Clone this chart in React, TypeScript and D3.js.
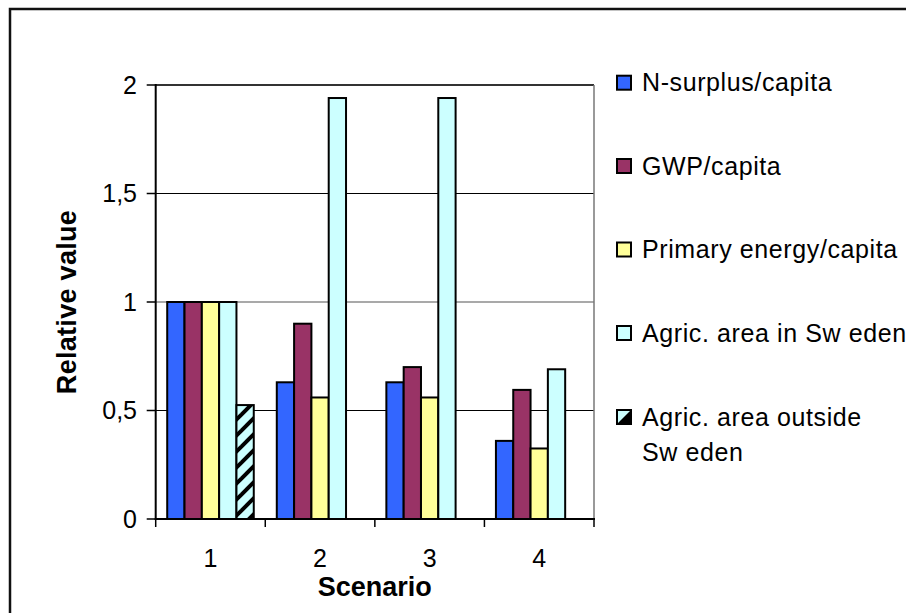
import React from "react";
import * as d3 from "d3";

const categories = ["1", "2", "3", "4"];
const seriesNames = [
  "N-surplus/capita",
  "GWP/capita",
  "Primary energy/capita",
  "Agric. area in Sw eden",
  "Agric. area outside Sw eden",
];
const legendLines = [
  ["N-surplus/capita"],
  ["GWP/capita"],
  ["Primary energy/capita"],
  ["Agric. area in Sw eden"],
  ["Agric. area outside", "Sw eden"],
];
const nSurplus = [1.0, 0.63, 0.63, 0.36];
const gwp = [1.0, 0.9, 0.7, 0.595];
const primaryEnergy = [1.0, 0.56, 0.56, 0.325];
const areaSweden = [1.0, 1.94, 1.94, 0.69];
const areaOutside = [0.525, null, null, null];
const yTicks = [0, 0.5, 1, 1.5, 2];
const yTickLabels = ["0", "0,5", "1", "1,5", "2"];

const seriesValues = [nSurplus, gwp, primaryEnergy, areaSweden, areaOutside];
const fills = ["#3366FF", "#993366", "#FFFF99", "#CCFFFF", "url(#hatch)"];

const W = 906;
const H = 613;
const left = 155.7;
const right = 594;
const top = 85;
const bottom = 519;
const FONT = "'Liberation Sans', Arial, sans-serif";

export default function App() {
  const x0 = d3.scaleBand().domain(categories).range([left, right]).paddingInner(0).paddingOuter(0);
  const x1 = d3
    .scaleBand()
    .domain(seriesNames)
    .range([0, x0.bandwidth()])
    .paddingInner(0)
    .paddingOuter(0.665);
  const y = d3.scaleLinear().domain([0, 2]).range([bottom, top]);

  const legendY = [82.7, 166, 249.5, 333, 417];

  return (
    <svg
      width={W}
      height={H}
      style={{ position: "absolute", left: 0, top: 0, background: "#fff" }}
      fontFamily={FONT}
    >
      <defs>
        <pattern id="hatch" patternUnits="userSpaceOnUse" width="16" height="16">
          <rect width="16" height="16" fill="#CCFFFF" />
          <path d="M-4,20 L20,-4" stroke="#000" strokeWidth="4" />
          <path d="M-4,4 L4,-4" stroke="#000" strokeWidth="4" />
          <path d="M12,20 L20,12" stroke="#000" strokeWidth="4" />
        </pattern>
      </defs>
      <rect x={0} y={0} width={W} height={H} fill="#fff" />
      {/* outer border */}
      <rect x={10} y={9} width={W + 20} height={H + 20} fill="none" stroke="#111" strokeWidth={2.5} />

      {/* gridlines */}
      {yTicks
        .filter((t) => t > 0 && t < 2)
        .map((t) => (
          <line key={t} x1={left} x2={right} y1={y(t)} y2={y(t)} stroke={t === 1 ? "#555" : "#000"} strokeWidth={1.2} />
        ))}
      {/* plot frame top & right */}
      <line x1={left} x2={right} y1={top} y2={top} stroke="#333" strokeWidth={2} />
      <line x1={right} x2={right} y1={top} y2={bottom} stroke="#777" strokeWidth={1.5} />

      {/* bars */}
      {seriesValues.map((vals, si) =>
        vals.map((v, ci) =>
          v == null ? null : (
            <rect
              key={`${si}-${ci}`}
              x={(x0(categories[ci]) as number) + (x1(seriesNames[si]) as number)}
              y={y(v)}
              width={x1.bandwidth()}
              height={bottom - y(v)}
              fill={fills[si]}
              stroke="#000"
              strokeWidth={2}
            />
          )
        )
      )}

      {/* axes */}
      <line x1={left} x2={left} y1={top - 1} y2={bottom + 1} stroke="#000" strokeWidth={2} />
      <line x1={left - 1} x2={right + 1} y1={bottom} y2={bottom} stroke="#000" strokeWidth={2} />
      {yTicks.map((t, i) => (
        <g key={t}>
          <line x1={left - 9} x2={left} y1={y(t)} y2={y(t)} stroke="#000" strokeWidth={1.5} />
          <text x={137} y={y(t)} dy="0.35em" textAnchor="end" fontSize={25} fill="#000">
            {yTickLabels[i]}
          </text>
        </g>
      ))}
      {[...categories.map((c) => x0(c) as number), right].map((xv, i) => (
        <line key={i} x1={xv} x2={xv} y1={bottom} y2={bottom + 8} stroke="#000" strokeWidth={1.5} />
      ))}
      {categories.map((c) => (
        <text
          key={c}
          x={(x0(c) as number) + x0.bandwidth() / 2}
          y={567}
          textAnchor="middle"
          fontSize={25}
          fill="#000"
        >
          {c}
        </text>
      ))}

      {/* axis titles */}
      <text x={(left + right) / 2} y={596} textAnchor="middle" fontSize={27} fontWeight="bold" fill="#000">
        Scenario
      </text>
      <text
        transform={`translate(76,${(top + bottom) / 2}) rotate(-90)`}
        textAnchor="middle"
        fontSize={27}
        fontWeight="bold"
        letterSpacing={0.3}
        fill="#000"
      >
        Relative value
      </text>

      {/* legend */}
      {legendLines.map((lines, i) => (
        <g key={i}>
          {i < 4 ? (
            <rect x={617} y={legendY[i] - 7} width={14} height={14} fill={fills[i]} stroke="#000" strokeWidth={2} />
          ) : (
            <g>
              <rect x={617} y={legendY[i] - 7} width={14} height={14} fill="#CCFFFF" stroke="#000" strokeWidth={2} />
              <path
                d={`M631,${legendY[i] - 7} L631,${legendY[i] + 7} L617,${legendY[i] + 7} Z`}
                fill="#000"
              />
            </g>
          )}
          {lines.map((ln, j) => (
            <text
              key={j}
              x={642}
              y={legendY[i] + j * 35}
              dy="0.35em"
              fontSize={25}
              letterSpacing={0.6}
              fill="#000"
            >
              {ln}
            </text>
          ))}
        </g>
      ))}
    </svg>
  );
}
